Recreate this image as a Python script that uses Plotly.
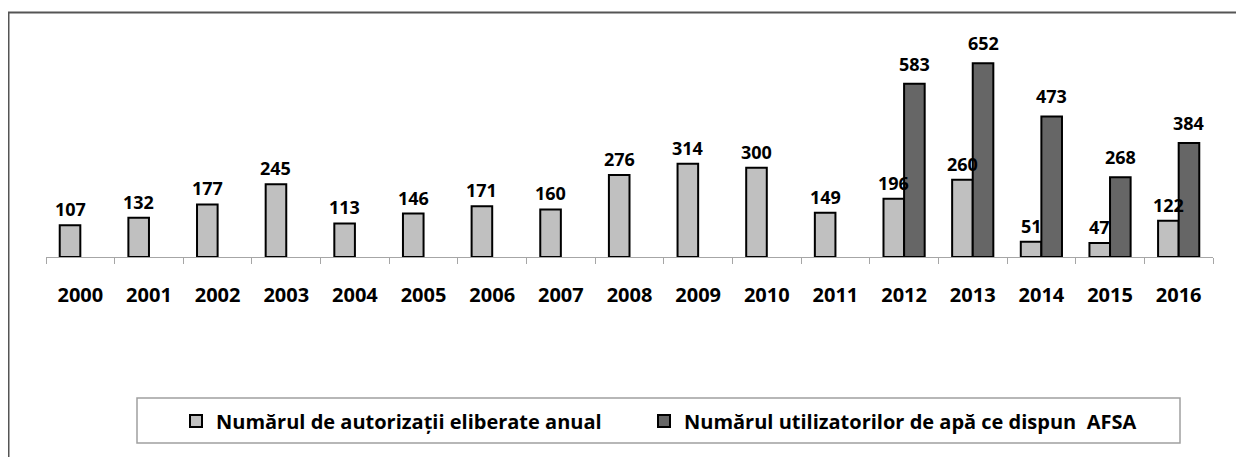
import plotly.graph_objects as go

years = [str(y) for y in range(2000, 2017)]
autorizatii = [107, 132, 177, 245, 113, 146, 171, 160, 276, 314, 300, 149, 196, 260, 51, 47, 122]
utilizatori = [None] * 12 + [583, 652, 473, 268, 384]

name1 = "Numărul de autorizații eliberate anual"
name2 = "Numărul utilizatorilor de apă ce dispun  AFSA"

OFF = 8  # page body margin
W, H = 1244 - OFF, 457 - OFF
# plot area in screen pixels
L, R, T, B = 46, 1213, 49, 257
pw, ph = R - L, B - T


def px(x):
    return (x - L) / pw


def py(y):
    return (B - y) / ph


font_family = "'Open Sans', Lato, sans-serif"
bar_px = pw / len(years) * 0.6 / 2

fig = go.Figure()
fig.add_trace(go.Bar(
    x=years, y=autorizatii, name=name1, legend="legend",
    marker=dict(color="#c0c0c0", line=dict(color="#000000", width=2)),
))
fig.add_trace(go.Bar(
    x=years, y=utilizatori, name=name2, legend="legend2",
    marker=dict(color="#666666", line=dict(color="#000000", width=2)),
))

label_font = dict(family=font_family, size=18, color="#000000", weight="bold")
for i, v in enumerate(autorizatii):
    fig.add_annotation(x=i, y=v, text=str(v), showarrow=False, xref="x", yref="y",
                       xanchor="center", yanchor="bottom", xshift=-bar_px / 2, yshift=2,
                       font=label_font)
for i, v in enumerate(utilizatori):
    if v is None:
        continue
    fig.add_annotation(x=i, y=v, text=str(v), showarrow=False, xref="x", yref="y",
                       xanchor="center", yanchor="bottom", xshift=bar_px / 2, yshift=6,
                       font=label_font)

legend_font = dict(family=font_family, size=20, color="#000000", weight="bold")
fig.update_layout(
    width=W, height=H,
    margin=dict(l=L - OFF, r=W - (R - OFF), t=T - OFF, b=H - (B - OFF), pad=0),
    barmode="group", bargap=0.4, bargroupgap=0,
    plot_bgcolor="white", paper_bgcolor="white",
    showlegend=True,
    legend=dict(
        orientation="h", x=px(176), xanchor="left", y=py(421), yanchor="middle",
        font=legend_font, bgcolor="rgba(0,0,0,0)", borderwidth=0,
    ),
    legend2=dict(
        orientation="h", x=px(644), xanchor="left", y=py(421), yanchor="middle",
        font=legend_font, bgcolor="rgba(0,0,0,0)", borderwidth=0,
    ),
    xaxis=dict(
        type="category", range=[-0.5, len(years) - 0.5],
        showline=True, linecolor="#a6a6a6", linewidth=1,
        ticks="outside", tickson="boundaries", ticklen=6, tickcolor="#a6a6a6",
        tickfont=dict(family=font_family, size=20, color="#000000", weight="bold"),
        ticklabelstandoff=20, showgrid=False, fixedrange=True,
    ),
    yaxis=dict(range=[0, 700], visible=False, showgrid=False, zeroline=False),
)

# legend box
fig.add_shape(type="rect", xref="paper", yref="paper",
              x0=px(137), x1=px(1180), y0=py(443), y1=py(398),
              line=dict(color="#a0a0a0", width=1.5), fillcolor="rgba(0,0,0,0)", layer="below")
# outer frame (left and top visible)
fig.add_shape(type="path", xref="paper", yref="paper",
              path=f"M {px(8.5)} {py(470)} L {px(8.5)} {py(12.5)} L {px(1250)} {py(12.5)}",
              line=dict(color="#555555", width=2))

fig.write_html("out.html")
